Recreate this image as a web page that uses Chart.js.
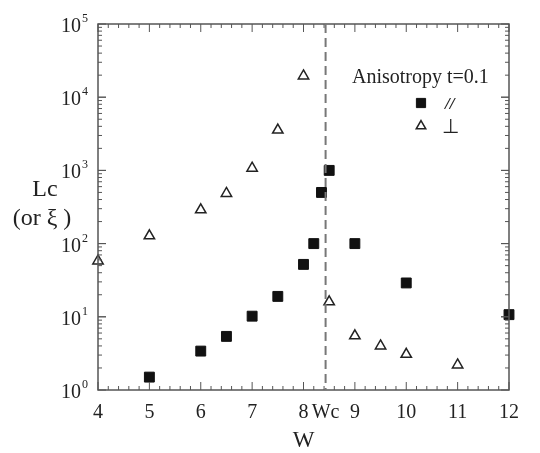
<canvas id="myChart" width="540" height="453"></canvas>
<style>
  body{ margin:0; background:#fff; }
  canvas{ display:block; }
</style>
<script src="https://cdn.jsdelivr.net/npm/chart.js@4/dist/chart.umd.min.js"></script>
<script>
// data
const parW  = [5, 6, 6.5, 7, 7.5, 8, 8.2, 8.35, 8.5, 9, 10, 12];
const parLc = [1.5, 3.4, 5.4, 10.2, 19, 52, 100, 500, 1000, 100, 29, 10.7];
const perpW  = [4, 5, 6, 6.5, 7, 7.5, 8, 8.5, 9, 9.5, 10, 11];
const perpLc = [58, 128, 290, 485, 1070, 3550, 19500, 16, 5.5, 4.0, 3.07, 2.2];
const Wc = 8.43;
const xTicks = [4, 5, 6, 7, 8, 9, 10, 11, 12];
const yTicks = [1, 10, 100, 1000, 10000, 100000];
const yExp = ['0', '1', '2', '3', '4', '5'];

const serif = "'Liberation Serif', 'Times New Roman', serif";
const toPts = (xs, ys) => xs.map((x, i) => ({x: x, y: ys[i]}));

const frame = {
  id: 'frame',
  afterDraw(chart){
    const ctx = chart.ctx, a = chart.chartArea;
    const xs = chart.scales.x, ys = chart.scales.y;
    ctx.save();
    // box
    ctx.strokeStyle = '#555';
    ctx.lineWidth = 1.5;
    ctx.strokeRect(a.left, a.top, a.right - a.left, a.bottom - a.top);
    // inward ticks, x
    ctx.lineWidth = 1;
    for (let v = 4; v <= 12.001; v += 0.2) {
      const px = xs.getPixelForValue(v);
      const major = Math.abs(v - Math.round(v)) < 0.01;
      const len = major ? 8 : 4;
      ctx.beginPath();
      ctx.moveTo(px, a.bottom); ctx.lineTo(px, a.bottom - len);
      ctx.moveTo(px, a.top); ctx.lineTo(px, a.top + len);
      ctx.stroke();
    }
    // inward ticks, y (log)
    for (let d = 0; d < 5; d++) {
      for (let m = 1; m <= 10; m++) {
        const py = ys.getPixelForValue(m * Math.pow(10, d));
        const len = (m === 1 || m === 10) ? 8 : 4;
        ctx.beginPath();
        ctx.moveTo(a.left, py); ctx.lineTo(a.left + len, py);
        ctx.moveTo(a.right, py); ctx.lineTo(a.right - len, py);
        ctx.stroke();
      }
    }
    // y tick labels with superscripts
    ctx.fillStyle = '#222';
    ctx.textBaseline = 'alphabetic';
    yTicks.forEach((v, i) => {
      const py = ys.getPixelForValue(v);
      ctx.font = '12px ' + serif;
      ctx.textAlign = 'right';
      const ew = ctx.measureText(yExp[i]).width;
      ctx.fillText(yExp[i], 88, py - 2);
      ctx.font = '20px ' + serif;
      ctx.fillText('10', 87 - ew, py + 8);
    });
    // Wc dashed line
    const wx = xs.getPixelForValue(Wc);
    ctx.strokeStyle = '#777';
    ctx.lineWidth = 2;
    ctx.setLineDash([9, 5]);
    ctx.beginPath();
    ctx.moveTo(wx, a.top); ctx.lineTo(wx, a.bottom);
    ctx.stroke();
    ctx.setLineDash([]);
    // axis titles
    ctx.fillStyle = '#222';
    ctx.textAlign = 'center';
    ctx.font = '23px ' + serif;
    ctx.fillText('W', xs.getPixelForValue(8), 447);
    ctx.font = '24px ' + serif;
    ctx.fillText('Lc', 45, 196);
    ctx.fillText('(or \u03BE )', 42, 225);
    // legend
    ctx.textAlign = 'left';
    ctx.font = '20px ' + serif;
    ctx.fillText('Anisotropy t=0.1', 352, 83);
    ctx.fillStyle = '#111';
    ctx.strokeStyle = '#111';
    ctx.lineWidth = 1;
    Chart.helpers.drawPoint(ctx, {pointStyle: 'rect', radius: 6.5, borderWidth: 1}, 421, 103);
    ctx.fillStyle = '#222';
    ctx.font = 'italic bold 17px ' + serif;
    ctx.fillText('//', 445, 109);
    ctx.fillStyle = '#fff';
    ctx.strokeStyle = '#222';
    ctx.lineWidth = 1.5;
    Chart.helpers.drawPoint(ctx, {pointStyle: 'triangle', radius: 5.5, borderWidth: 1.5}, 421, 126);
    ctx.fillStyle = '#222';
    ctx.font = '20px ' + serif;
    ctx.fillText('\u22A5', 442, 133);
    ctx.restore();
  }
};

const ctx = document.getElementById('myChart').getContext('2d');
const myChart = new Chart(ctx, {
  type: 'scatter',
  data: {
    datasets: [{
      label: '//',
      data: toPts(parW, parLc),
      pointStyle: 'rect',
      pointRadius: 7,
      backgroundColor: '#111',
      borderColor: '#111',
      borderWidth: 1,
      clip: false
    }, {
      label: '\u22A5',
      data: toPts(perpW, perpLc),
      pointStyle: 'triangle',
      pointRadius: 6,
      backgroundColor: '#fff',
      borderColor: '#222',
      borderWidth: 1.5,
      clip: false
    }]
  },
  options: {
    responsive: false,
    animation: false,
    layout: { padding: { left: 0, right: 31, top: 24, bottom: 0 } },
    plugins: { legend: { display: false }, tooltip: { enabled: false } },
    scales: {
      x: {
        type: 'linear', min: 4, max: 12,
        grid: { display: false },
        border: { display: false },
        afterBuildTicks: (s) => {
          s.ticks = xTicks.concat([Wc]).sort((p, q) => p - q).map(v => ({value: v}));
        },
        afterFit: (s) => { s.height = 63; },
        ticks: {
          autoSkip: false, maxRotation: 0, padding: 3,
          color: '#222',
          font: { family: serif, size: 20 },
          callback: (v) => v === Wc ? 'Wc' : String(v)
        }
      },
      y: {
        type: 'logarithmic', min: 1, max: 100000,
        grid: { display: false },
        border: { display: false },
        afterFit: (s) => { s.width = 98; },
        ticks: { display: false }
      }
    }
  },
  plugins: [frame]
});
</script>
